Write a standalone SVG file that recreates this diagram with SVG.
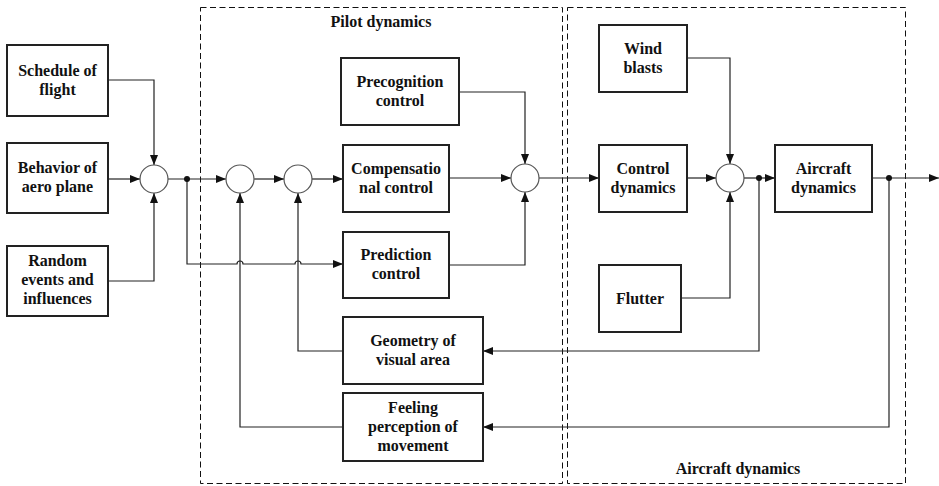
<svg xmlns="http://www.w3.org/2000/svg" width="939" height="486" viewBox="0 0 939 486">
<style>
.box{fill:#fff;stroke:#222;stroke-width:2}
.sum{fill:#fff;stroke:#555;stroke-width:1.2}
.frame{fill:none;stroke:#111;stroke-width:1;stroke-dasharray:6 3.5}
.ln{fill:none;stroke:#222;stroke-width:1.2}
text{font-family:'Liberation Serif','DejaVu Serif',serif;font-weight:bold;font-size:16px;fill:#111;text-anchor:middle}
</style>
<defs>
<marker id="ah" viewBox="0 0 10 10" refX="10" refY="5" markerWidth="10" markerHeight="10" markerUnits="userSpaceOnUse" orient="auto">
<path d="M0,1 L10,5 L0,9 Z" fill="#111"/>
</marker>
</defs>
<rect width="939" height="486" fill="#fff"/>
<g id="frames">
<rect class="frame" x="200.5" y="7.5" width="362" height="476"/>
<rect class="frame" x="567.5" y="7.5" width="338" height="476"/>
<text x="381" y="27">Pilot dynamics</text>
<text x="738" y="474">Aircraft dynamics</text>
</g>
<g id="connectors">
<path class="ln" d="M108,80 H154 V165" marker-end="url(#ah)"/>
<path class="ln" d="M108,179 H140" marker-end="url(#ah)"/>
<path class="ln" d="M108,281 H154 V193" marker-end="url(#ah)"/>
<path class="ln" d="M168,179 H226" marker-end="url(#ah)"/>
<path class="ln" d="M254,179 H284" marker-end="url(#ah)"/>
<path class="ln" d="M312,179 H343" marker-end="url(#ah)"/>
<path class="ln" d="M187,179 V264 H237 A3,3 0 0 1 243,264 H295 A3,3 0 0 1 301,264 H343" marker-end="url(#ah)"/>
<path class="ln" d="M459,92 H525 V164" marker-end="url(#ah)"/>
<path class="ln" d="M449,178 H511" marker-end="url(#ah)"/>
<path class="ln" d="M449,265 H525 V192" marker-end="url(#ah)"/>
<path class="ln" d="M539,178 H599" marker-end="url(#ah)"/>
<path class="ln" d="M687,58 H730 V164" marker-end="url(#ah)"/>
<path class="ln" d="M687,178 H716" marker-end="url(#ah)"/>
<path class="ln" d="M681,298 H730 V192" marker-end="url(#ah)"/>
<path class="ln" d="M744,178 H775" marker-end="url(#ah)"/>
<path class="ln" d="M872,178 H939" marker-end="url(#ah)"/>
<path class="ln" d="M759,178 V351 H483" marker-end="url(#ah)"/>
<path class="ln" d="M889,178 V427 H483" marker-end="url(#ah)"/>
<path class="ln" d="M343,351 H298 V193" marker-end="url(#ah)"/>
<path class="ln" d="M343,427 H240 V193" marker-end="url(#ah)"/>
<circle cx="187" cy="179" r="3" fill="#111"/>
<circle cx="759" cy="178" r="3" fill="#111"/>
<circle cx="889" cy="178" r="3" fill="#111"/>
</g>
<g id="schedule"><rect class="box" x="7" y="45" width="101" height="71"/><text x="57.5" y="76">Schedule of</text><text x="57.5" y="95">flight</text></g>
<g id="behavior"><rect class="box" x="7" y="143" width="101" height="70"/><text x="57.5" y="173">Behavior of</text><text x="57.5" y="192">aero plane</text></g>
<g id="random"><rect class="box" x="7" y="246" width="101" height="70"/><text x="57.5" y="266">Random</text><text x="57.5" y="285">events and</text><text x="57.5" y="304">influences</text></g>
<g id="sum1"><circle class="sum" cx="154" cy="179" r="14"/></g>
<g id="sum2"><circle class="sum" cx="240" cy="179" r="14"/></g>
<g id="sum3"><circle class="sum" cx="298" cy="179" r="14"/></g>
<g id="precognition"><rect class="box" x="341" y="58" width="118" height="67"/><text x="400" y="87">Precognition</text><text x="400" y="106">control</text></g>
<g id="compensational"><rect class="box" x="343" y="145" width="106" height="67"/><text x="396" y="174">Compensatio</text><text x="396" y="193">nal control</text></g>
<g id="prediction"><rect class="box" x="343" y="232" width="106" height="66"/><text x="396" y="260">Prediction</text><text x="396" y="279">control</text></g>
<g id="sum4"><circle class="sum" cx="525" cy="178" r="14"/></g>
<g id="geometry"><rect class="box" x="343" y="317" width="140" height="67"/><text x="413" y="346">Geometry of</text><text x="413" y="365">visual area</text></g>
<g id="feeling"><rect class="box" x="343" y="393" width="140" height="68"/><text x="413" y="413">Feeling</text><text x="413" y="432">perception of</text><text x="413" y="451">movement</text></g>
<g id="wind"><rect class="box" x="599" y="25" width="88" height="67"/><text x="643" y="54">Wind</text><text x="643" y="73">blasts</text></g>
<g id="control"><rect class="box" x="599" y="145" width="88" height="67"/><text x="643" y="174">Control</text><text x="643" y="193">dynamics</text></g>
<g id="flutter"><rect class="box" x="599" y="265" width="82" height="67"/><text x="640" y="304">Flutter</text></g>
<g id="sum5"><circle class="sum" cx="730" cy="178" r="14"/></g>
<g id="aircraft"><rect class="box" x="775" y="145" width="97" height="67"/><text x="823.5" y="174">Aircraft</text><text x="823.5" y="193">dynamics</text></g>
</svg>
